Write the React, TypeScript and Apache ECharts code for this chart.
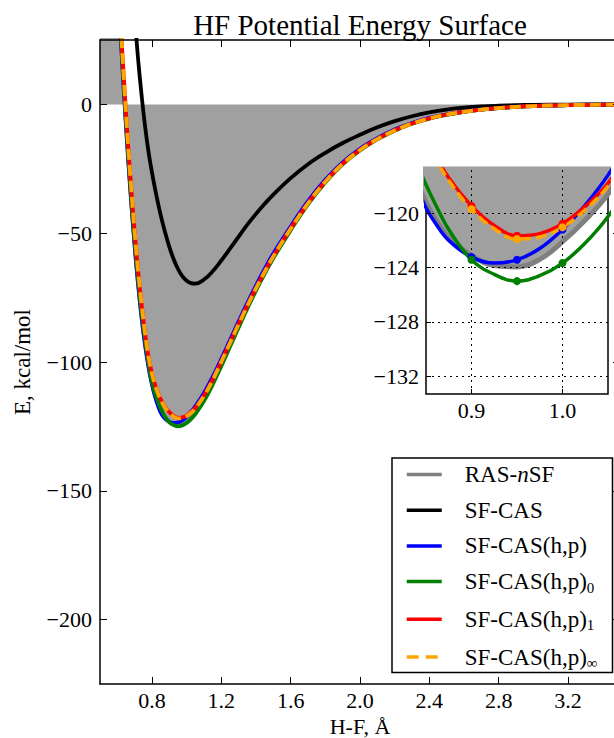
import React, { useEffect, useRef } from "react";
import * as echarts from "echarts";

// ---------------- data ----------------
const bondLength = [
  0.5, 0.52, 0.54, 0.56, 0.58, 0.6, 0.62, 0.64, 0.66, 0.68, 0.7, 0.72, 0.74, 0.76, 0.78, 0.8, 0.82, 0.84,
  0.85, 0.86, 0.875, 0.9, 0.925, 0.95, 0.975, 1.0, 1.025, 1.05,
  1.1, 1.15, 1.2, 1.25, 1.3, 1.35, 1.4, 1.45, 1.5,
  1.6, 1.7, 1.8, 1.9, 2.0, 2.1, 2.2, 2.3, 2.4, 2.5, 2.6, 2.7, 2.8, 2.9, 3.0,
  3.2, 3.5,
];

const rasNsf = [
  251, 194, 147, 110.5, 79, 51, 26, 3.1, -18.1, -37.3, -54.5, -69.5, -82.3, -92.9, -101.5, -108.3, -113.5, -117.6,
  -119.2, -120.4, -121.8, -123.1, -123.85, -123.95, -123.4, -122.1, -120.5, -118.6,
  -113.5, -107.2, -100.0, -92.3, -84.9, -77.7, -70.9, -64.5, -58.5,
  -47.8, -38.0, -29.7, -22.8, -17.45, -13.3, -9.9, -7.3, -5.35, -3.9, -2.82, -1.98, -1.38, -0.93, -0.62,
  -0.25, -0.05,
];

const sfCas = [
  259, 232, 206, 181, 157, 134, 112, 91, 71, 52, 34, 17.5, 3.5, -8.5, -18.5, -26.5, -33.6, -40.0,
  -42.9, -45.7, -49.5, -55.3, -60.1, -63.9, -66.7, -68.5, -69.4, -69.6,
  -68.0, -64.8, -60.6, -56.0, -51.3, -46.7, -42.5, -38.6, -35.0,
  -28.6, -23.2, -18.8, -15.0, -11.8, -8.9, -6.5, -4.6, -3.1, -2.0, -1.3, -0.8, -0.5, -0.3, -0.2,
  -0.08, 0,
];

const sfCasHp = [
  250, 193, 146, 110, 78.5, 50.6, 25.6, 2.6, -18.6, -37.8, -55.0, -70.0, -82.8, -93.4, -102.0, -108.8, -114.0, -118.0,
  -119.6, -120.7, -122.0, -123.23, -123.67, -123.43, -122.6, -121.2, -119.4, -117.2,
  -112.0, -105.8, -98.8, -91.5, -84.2, -77.1, -70.3, -63.9, -57.9,
  -47.4, -37.6, -29.3, -22.5, -17.2, -13.1, -9.75, -7.2, -5.25, -3.85, -2.78, -1.95, -1.37, -0.92, -0.61,
  -0.24, -0.05,
];

const sfCasHp0 = [
  252, 195, 148, 111, 79.5, 51.5, 27.0, 4.0, -17.0, -36.3, -53.3, -68.2, -80.8, -91.5, -100.5, -107.9, -112.7, -116.3,
  -117.9, -119.3, -121.2, -123.43, -124.5, -125.0, -124.6, -123.67, -122.2, -120.25,
  -115.2, -108.8, -101.6, -94.1, -86.6, -79.3, -72.3, -65.8, -59.7,
  -48.9, -38.8, -30.3, -23.3, -17.9, -13.6, -10.2, -7.5, -5.5, -4.05, -2.9, -2.05, -1.43, -0.97, -0.65,
  -0.26, -0.05,
];

const sfCasHp1 = [
  262, 203, 153, 115, 83, 55, 30.5, 7.6, -13.4, -32.4, -49.5, -64.6, -77.7, -88.8, -98.0, -104.5, -109.3, -113.0,
  -114.4, -115.7, -117.4, -119.46, -120.9, -121.66, -121.5, -120.78, -119.5, -117.8,
  -113.0, -106.8, -99.8, -92.5, -85.2, -78.1, -71.3, -64.9, -58.9,
  -48.2, -38.3, -29.9, -23.0, -17.6, -13.4, -10.0, -7.4, -5.4, -3.95, -2.85, -2.0, -1.4, -0.95, -0.63,
  -0.25, -0.05,
];

const sfCasHpInf = [
  262, 203, 153, 115, 83, 55, 30.5, 7.6, -13.4, -32.4, -49.5, -64.6, -77.7, -88.8, -98.0, -104.6, -109.4, -113.2,
  -114.6, -115.9, -117.6, -119.7, -121.15, -121.9, -121.75, -121.03, -119.75, -118.0,
  -113.2, -107.0, -99.9, -92.6, -85.3, -78.2, -71.4, -65.0, -59.0,
  -48.3, -38.4, -30.0, -23.1, -17.7, -13.5, -10.1, -7.45, -5.45, -4.0, -2.9, -2.03, -1.42, -0.96, -0.64,
  -0.26, -0.05,
];

const markedPoints = [0.9, 0.95, 1.0];
const xTicks = [0.8, 1.2, 1.6, 2.0, 2.4, 2.8, 3.2];
const yTicks = [0, -50, -100, -150, -200];
const insetXTicks = [0.9, 1.0];
const insetYTicks = [-120, -124, -128, -132];

const seriesNames = ["RAS-nSF", "SF-CAS", "SF-CAS(h,p)", "SF-CAS(h,p)0", "SF-CAS(h,p)1", "SF-CAS(h,p)∞"];
const seriesValues = [rasNsf, sfCas, sfCasHp, sfCasHp0, sfCasHp1, sfCasHpInf];
const legendLabels = [
  "RAS-{it|n}SF",
  "SF-CAS",
  "SF-CAS(h,p)",
  "SF-CAS(h,p){sub|0}",
  "SF-CAS(h,p){sub|1}",
  "SF-CAS(h,p){sub|∞}",
];

// ---------------- styles ----------------
const seriesColors = ["#808080", "#000000", "#0000ff", "#008000", "#ff0000", "#ffa500"];
const FONT = "'Liberation Serif', 'DejaVu Serif', serif";

const minusFmt = (v: number) => (v < 0 ? "\u2212" + Math.abs(v) : String(v));
const toPairs = (ys: number[]) => bondLength.map((x, i) => [x, ys[i]]);
const isMarked = (x: number) => markedPoints.some((m) => Math.abs(m - x) < 1e-9);

function buildOption() {
  const axisLineStyle = { color: "#000", width: 1.5 };
  const labelStyle = { fontSize: 22, fontFamily: FONT, color: "#000" };

  const mainSeries = seriesNames.map((name, i) => ({
    type: "line",
    name,
    xAxisIndex: 0,
    yAxisIndex: 0,
    data: toPairs(seriesValues[i]),
    smooth: 0.4,
    symbol: "none",
    z: 2,
    lineStyle: {
      color: seriesColors[i],
      width: i === 0 ? 4 : 3.8,
      type: i === 5 ? [11, 5] : "solid",
    },
    itemStyle: { color: seriesColors[i] },
    areaStyle: i === 0 ? { color: "#a0a0a0", opacity: 1, origin: 0 } : undefined,
  }));

  const insetSeries = seriesNames
    .map((name, i) => ({ name, i }))
    .filter((d) => d.i !== 1)
    .map(({ name, i }) => ({
      type: "line",
      name,
      xAxisIndex: 2,
      yAxisIndex: 2,
      data: toPairs(seriesValues[i]),
      smooth: 0.4,
      z: i === 0 ? 4 : 6,
      symbol: i === 0 ? "none" : (val: number[]) => (isMarked(val[0]) ? "circle" : "none"),
      symbolSize: 8,
      lineStyle: {
        color: seriesColors[i],
        width: i === 0 ? 5 : 3.5,
        type: i === 5 ? [11, 5] : "solid",
      },
      itemStyle: { color: seriesColors[i] },
      areaStyle: i === 0 ? { color: "#a0a0a0", opacity: 1, origin: 0 } : undefined,
      markLine:
        i === 0
          ? {
              silent: true,
              z: 4.5,
              symbol: ["none", "none"],
              label: { show: false },
              lineStyle: { color: "#000", width: 1, type: [2, 4] },
              data: [
                ...insetXTicks.map((v) => ({ xAxis: v })),
                ...insetYTicks.map((v) => ({ yAxis: v })),
              ],
            }
          : undefined,
    }));

  return {
    animation: false,
    backgroundColor: "#fff",
    title: {
      text: "HF Potential Energy Surface",
      left: 360,
      top: 10,
      textAlign: "center",
      padding: 0,
      textStyle: { fontSize: 29, fontWeight: "normal", fontFamily: FONT, color: "#000" },
    },
    legend: {
      orient: "vertical",
      left: 392,
      top: 458,
      padding: [5, 15, 2, 13],
      itemGap: 12.7,
      itemWidth: 35,
      itemHeight: 14,
      borderColor: "#000",
      borderWidth: 1.5,
      borderRadius: 0,
      backgroundColor: "#fff",
      selectedMode: false,
      z: 10,
      itemStyle: { opacity: 0 },
      lineStyle: { width: 3.5 },
      data: seriesNames.map((name, i) =>
        i === 5 ? { name, lineStyle: { width: 3.5, type: [12, 7] } } : { name }
      ),
      formatter: (n: string) => legendLabels[seriesNames.indexOf(n)],
      textStyle: {
        fontSize: 23,
        fontFamily: FONT,
        color: "#000",
        padding: [0, 0, 0, 18],
        rich: {
          it: { fontStyle: "italic", fontSize: 23, fontFamily: FONT, color: "#000" },
          sub: { fontSize: 15, fontFamily: FONT, color: "#000", padding: [8, 0, -4, 0] },
        },
      },
    },
    grid: [
      { left: 100, top: 40, right: -6, bottom: 54, containLabel: false, outerBoundsMode: "none" },
      {
        left: 426,
        top: 169,
        right: 6,
        bottom: 344,
        show: true,
        z: 3,
        backgroundColor: "#fff",
        borderColor: "#000",
        borderWidth: 1.5,
        containLabel: false,
        outerBoundsMode: "none",
      },
    ],
    xAxis: [
      {
        gridIndex: 0,
        type: "value",
        min: 0.5,
        max: 3.5,
        position: "bottom",
        z: 3,
        axisLine: { onZero: false, lineStyle: axisLineStyle },
        axisTick: { inside: true, length: 7, customValues: xTicks, lineStyle: { color: "#000", width: 1 } },
        axisLabel: { customValues: xTicks, formatter: (v: number) => v.toFixed(1), margin: 5, ...labelStyle },
        splitLine: { show: false },
        name: "H-F, Å",
        nameLocation: "middle",
        nameGap: 28,
        nameTextStyle: { fontSize: 22, fontFamily: FONT, color: "#000" },
      },
      {
        gridIndex: 0,
        type: "value",
        min: 0.5,
        max: 3.5,
        position: "top",
        z: 3,
        axisLine: { onZero: false, lineStyle: axisLineStyle },
        axisTick: { inside: true, length: 7, customValues: xTicks, lineStyle: { color: "#000", width: 1 } },
        axisLabel: { show: false },
        splitLine: { show: false },
      },
      {
        gridIndex: 1,
        type: "value",
        min: 0.85,
        max: 1.05,
        position: "bottom",
        z: 7,
        axisLine: { show: false, onZero: false },
        axisTick: { inside: true, length: 5, customValues: insetXTicks, lineStyle: { color: "#000", width: 1 } },
        axisLabel: { customValues: insetXTicks, formatter: (v: number) => v.toFixed(1), margin: 5, ...labelStyle },
        splitLine: { show: false },
      },
    ],
    yAxis: [
      {
        gridIndex: 0,
        type: "value",
        min: -225,
        max: 25,
        position: "left",
        z: 3,
        axisLine: { onZero: false, lineStyle: axisLineStyle },
        axisTick: { inside: true, length: 7, customValues: yTicks, lineStyle: { color: "#000", width: 1 } },
        axisLabel: { customValues: yTicks, formatter: minusFmt, margin: 8, ...labelStyle },
        splitLine: { show: false },
        name: "E, kcal/mol",
        nameLocation: "middle",
        nameGap: 66,
        nameTextStyle: { fontSize: 23, fontFamily: FONT, color: "#000" },
      },
      {
        gridIndex: 0,
        type: "value",
        min: -225,
        max: 25,
        position: "right",
        z: 3,
        axisLine: { onZero: false, lineStyle: axisLineStyle },
        axisTick: { inside: true, length: 7, customValues: yTicks, lineStyle: { color: "#000", width: 1 } },
        axisLabel: { show: false },
        splitLine: { show: false },
      },
      {
        gridIndex: 1,
        type: "value",
        min: -133.3,
        max: -116.75,
        position: "left",
        z: 7,
        axisLine: { show: false, onZero: false },
        axisTick: { inside: true, length: 5, customValues: insetYTicks, lineStyle: { color: "#000", width: 1 } },
        axisLabel: { customValues: insetYTicks, formatter: minusFmt, margin: 7, ...labelStyle },
        splitLine: { show: false },
      },
    ],
    series: [...mainSeries, ...insetSeries],
  };
}

export default function App() {
  const ref = useRef<HTMLDivElement>(null);
  useEffect(() => {
    document.body.style.margin = "0";
    document.body.style.overflow = "hidden";
    const chart = echarts.init(ref.current as HTMLDivElement, null, { renderer: "svg" });
    chart.setOption(buildOption() as any);
    return () => chart.dispose();
  }, []);
  return <div ref={ref} style={{ width: 614, height: 738 }} />;
}
